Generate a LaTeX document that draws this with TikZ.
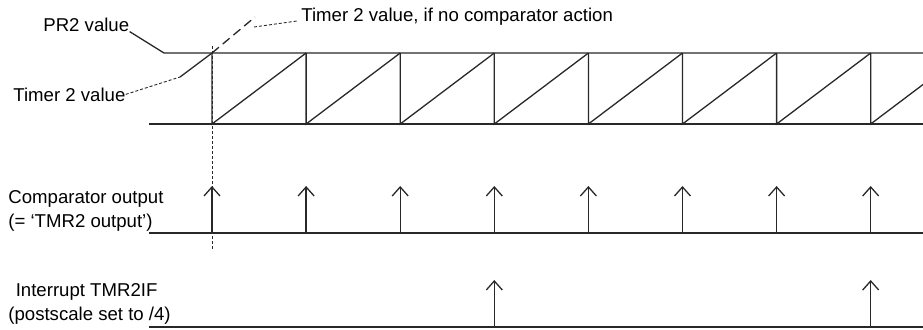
\documentclass[tikz,border=0pt]{standalone}
\usepackage{fontspec}
\setmainfont{Liberation Sans}
\usepackage{tikz}
\usetikzlibrary{arrows.meta, positioning, calc}
\definecolor{mydark}{RGB}{40,40,40}
\tikzset{
  trace/.style={line width=0.65pt, color=mydark},
  leader/.style={line width=0.45pt, color=mydark, dash pattern=on 1.5pt off 1pt},
  ghost/.style={line width=0.65pt, color=mydark, dash pattern=on 4.5pt off 2.5pt},
  pulse/.style={-{Straight Barb[length=4.5pt, width=8pt]}, line width=0.65pt, color=mydark},
  lbl/.style={inner sep=0pt, align=left, anchor=base west,
    font=\fontsize{9.3}{12}\selectfont}
}

\begin{document}
\begin{tikzpicture}[x=0.5pt, y=-0.5pt]
  \useasboundingbox (0,0) rectangle (923,329);

  % labels
  \node[lbl] (pr2lbl) at (43,31) {PR2 value};
  \node[lbl] (tmrlbl) at (13,101) {Timer 2 value};
  \node[lbl] (ghostlbl) at (301,21) {Timer 2 value, if no comparator action};
  \node[lbl] (cmplbl) at (8,227) {Comparator output\\(= `TMR2 output')};
  \node[lbl] (irqlbl) at (8,320) {\hspace*{3.7pt}Interrupt TMR2IF\\(postscale set to /4)};

  \coordinate (pr2start) at (164,53);
  \coordinate (rampstart) at (180,77);
  \coordinate (peak0) at (212,53);
  \coordinate (ghostend) at (255,17);
  \coordinate (ghostpt) at (254,27);

  % Timer 2 sawtooth
  \begin{scope}
    \clip (0,0) rectangle (923,329);
    \draw[trace] (pr2lbl.south east) -- (pr2start) -- (923,53);
    \draw[trace] (149,124) -- (923,124);
    \draw[trace] (rampstart) -- (peak0);
    \foreach \k in {0,...,7}{
      \draw[trace] ({212+94.1*\k},53) -- ({212+94.1*\k},124) -- ({306.1+94.1*\k},53);
    }
  \end{scope}
  \draw[leader] (tmrlbl.east) -- (rampstart);
  \draw[ghost] (peak0) -- (ghostend);
  \draw[leader] (ghostpt) -- ([xshift=-2pt]ghostlbl.base west);
  \draw[leader] (212,46) -- (212,250);

  % comparator output
  \draw[trace] (149,233) -- (923,233);
  \foreach \k in {0,...,7}{
    \draw[pulse] ({212+94.1*\k},233) -- ({212+94.1*\k},186);
  }

  % interrupt flag, every 4th match
  \draw[trace] (149,327) -- (923,327);
  \foreach \k in {3,7}{
    \draw[pulse] ({212+94.1*\k},327) -- ({212+94.1*\k},280);
  }
\end{tikzpicture}
\end{document}
